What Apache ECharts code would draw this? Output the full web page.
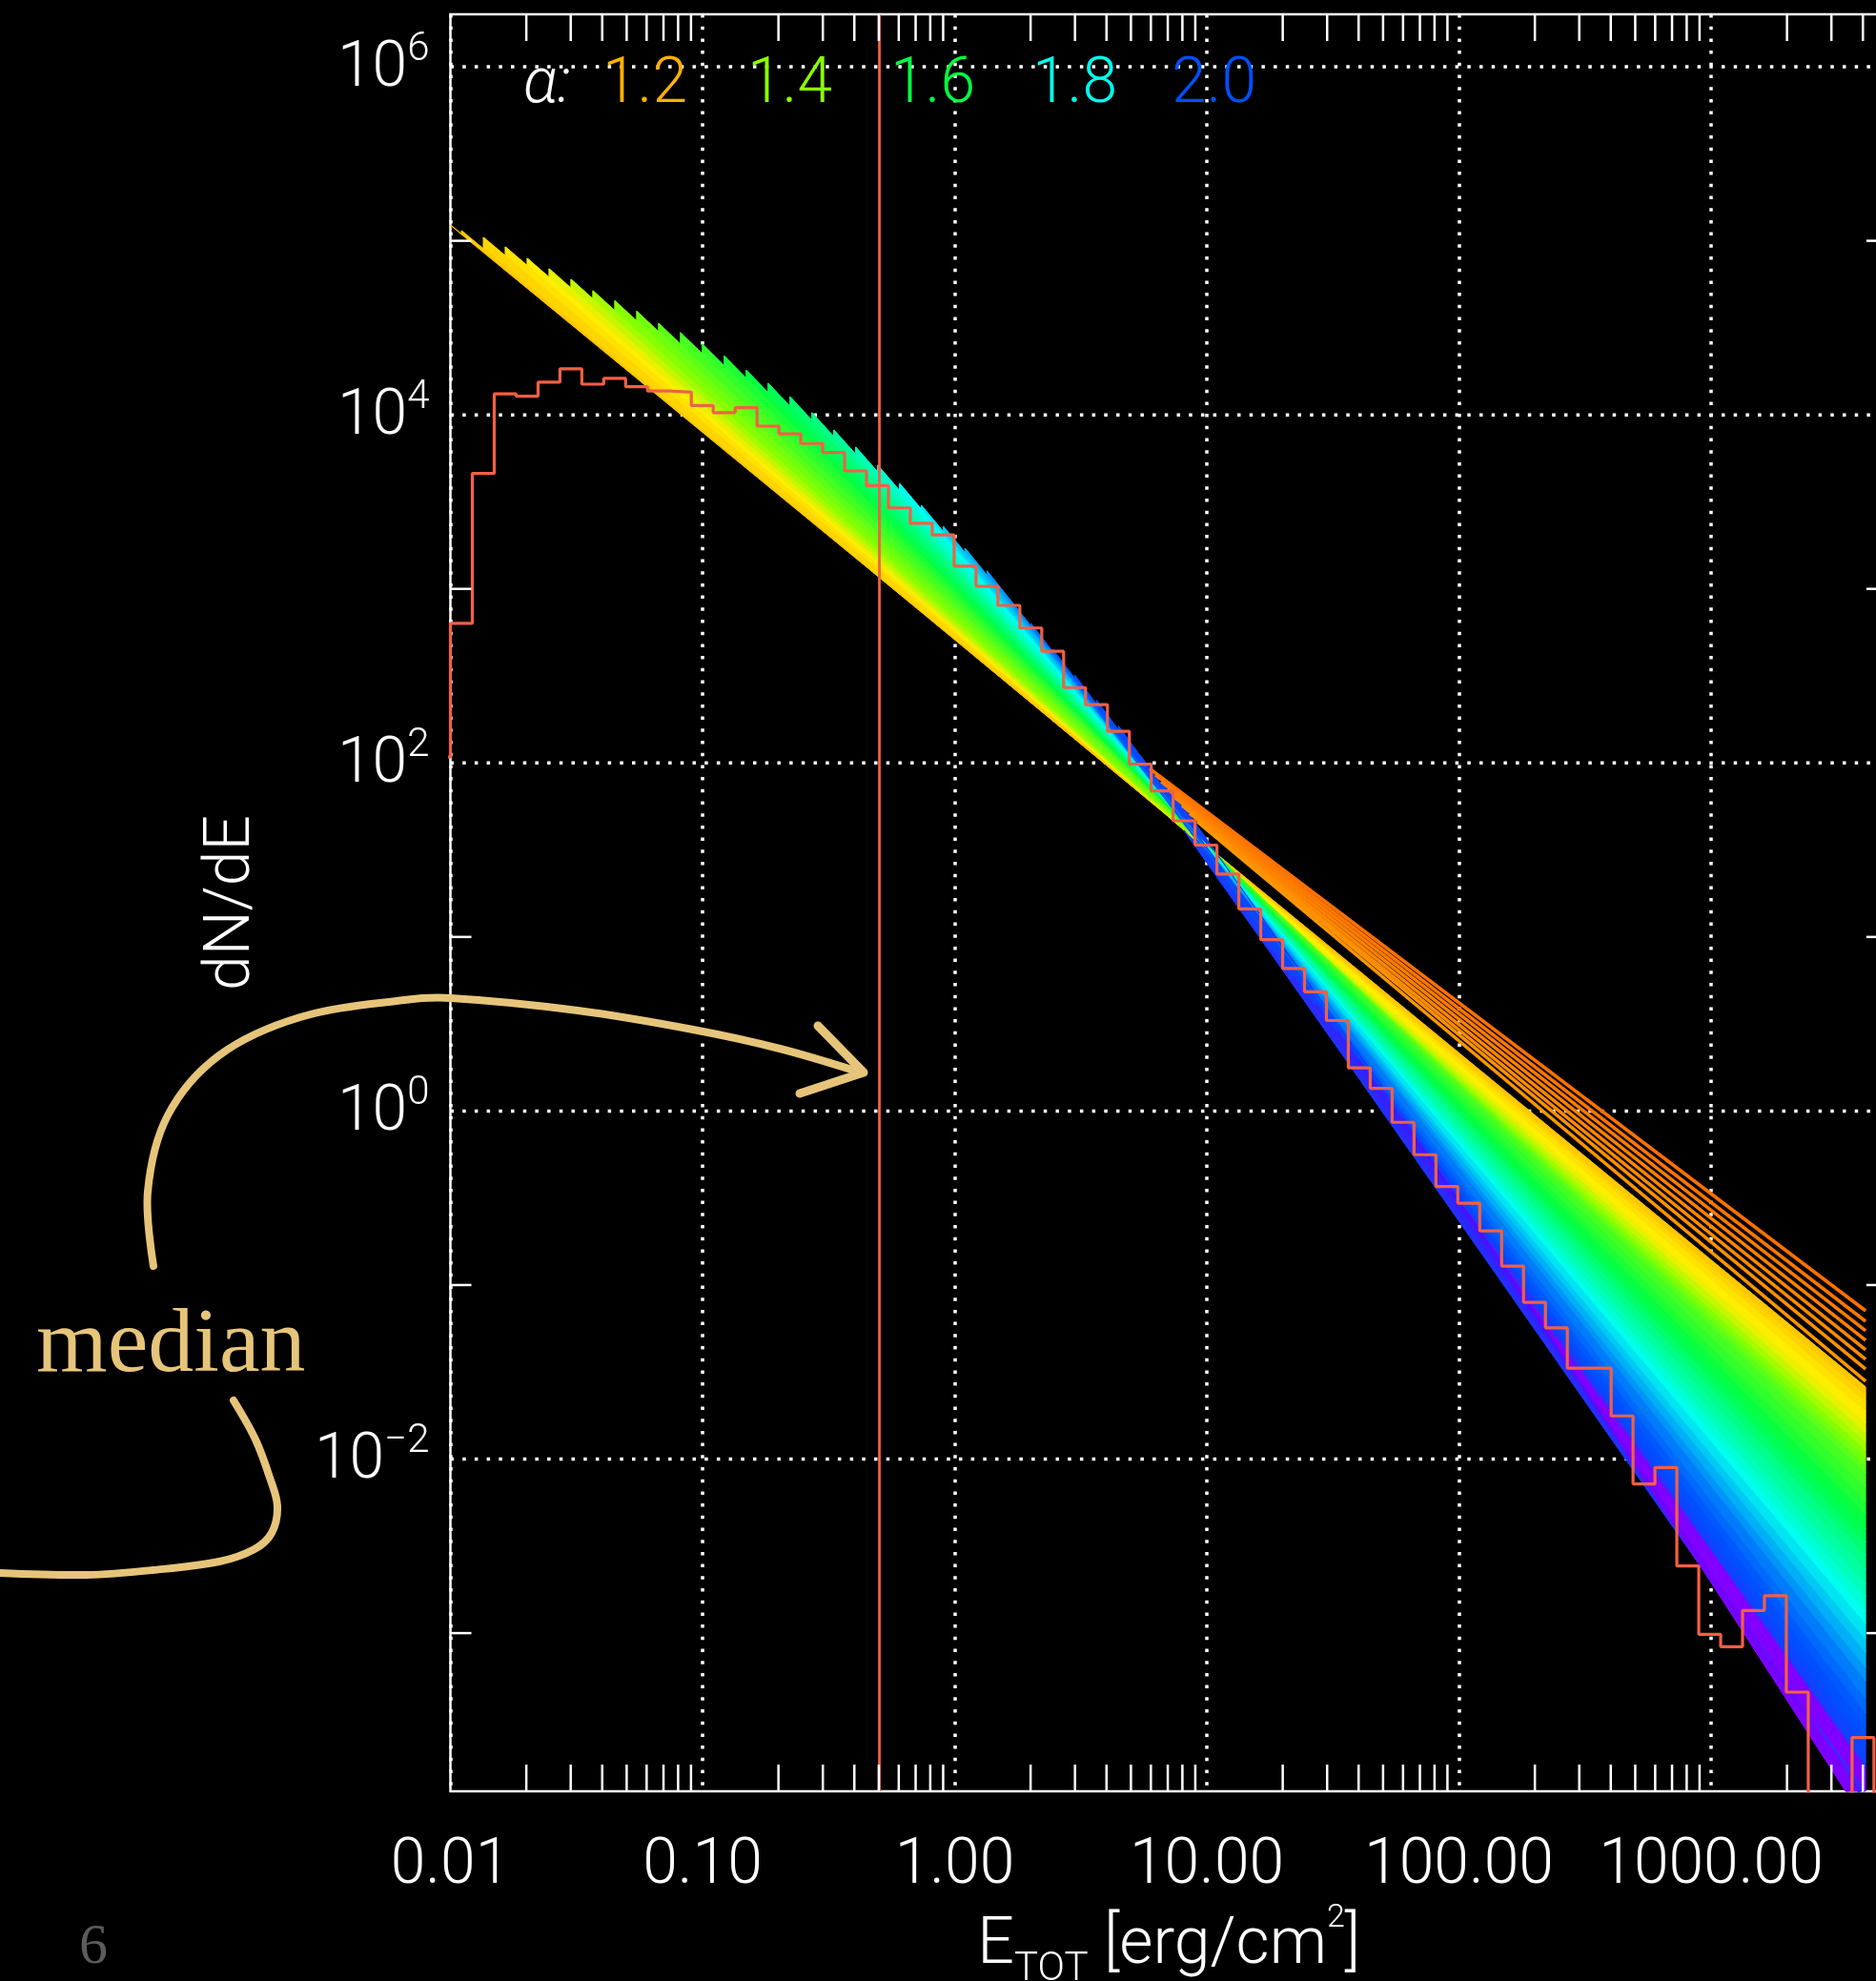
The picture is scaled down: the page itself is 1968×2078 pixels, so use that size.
<!DOCTYPE html>
<html>
<head>
<meta charset="utf-8">
<script src="https://cdn.jsdelivr.net/npm/echarts@6.0.0/dist/echarts.min.js"></script>
<style>
  html, body { margin: 0; padding: 0; background: #000; }
  #chart { width: 1968px; height: 2078px; }
</style>
</head>
<body>
<div id="chart"></div>
<script>
// ---------------- DATA ----------------
// Axis tick labels
const xTickValues = [0.01, 0.1, 1, 10, 100, 1000];
const xTickLabels = ['0.01', '0.10', '1.00', '10.00', '100.00', '1000.00'];
const yTickValues = [1e-2, 1, 1e2, 1e4, 1e6];
const yTickExponents = ['\u22122', '0', '2', '4', '6'];
const xMinorTicks = [0.02,0.03,0.04,0.05,0.06,0.07,0.08,0.09,
                     0.2,0.3,0.4,0.5,0.6,0.7,0.8,0.9,
                     2,3,4,5,6,7,8,9,
                     20,30,40,50,60,70,80,90,
                     200,300,400,500,600,700,800,900,
                     2000,3000,4000];
const yMinorTicks = [1e-3, 1e-1, 1e1, 1e3, 1e5];

// Legend (power-law index alpha)
const legendAlphaLabels = ['1.2', '1.4', '1.6', '1.8', '2.0'];

// Median of E_TOT
const medianEnergy = 0.5;

// Histogram: bin left edges and counts (dN/dE); tiny values = empty bins (off scale)
const histEdges = [0.008187, 0.01, 0.012214, 0.014918, 0.018221, 0.022255, 0.027183, 0.033201, 0.040552,
  0.04953, 0.060496, 0.073891, 0.09025, 0.110232, 0.134637, 0.164446, 0.200855, 0.245325, 0.299641,
  0.365982, 0.447012, 0.545982, 0.666863, 0.814509, 0.994843, 1.2151, 1.48413, 1.81272, 2.21406,
  2.70426, 3.303, 4.03429, 4.92749, 6.01845, 7.35095, 8.97847, 10.9663, 13.3943, 16.3598, 19.9819,
  24.406, 29.8096, 36.4095, 44.4706, 54.3165, 66.3426, 81.0308, 98.971, 120.88, 147.65, 180.34,
  220.27, 269.03, 328.6, 401.35, 490.21, 598.74, 731.3, 893.22, 1090.98, 1332.52, 1627.55, 1987.89,
  2428.02, 2965.59, 3622.17, 4424.13];
const histCounts = [108, 634, 4600, 13200, 12800, 15400, 18400, 15000, 16200, 14500, 13700, 13500,
  11300, 10300, 11000, 8610, 7780, 6840, 6080, 4760, 3920, 2920, 2380, 2040, 1350, 1035, 804, 596,
  438, 271, 216, 152, 98.4, 69.0, 46.5, 33.7, 23.0, 14.5, 9.66, 6.59, 4.84, 3.31, 1.77, 1.35, 0.861,
  0.561, 0.368, 0.295, 0.205, 0.1285, 0.0796, 0.0568, 0.0333, 0.0333, 0.0177, 0.00719, 0.00895,
  0.00243, 0.000984, 0.000836, 0.00135, 0.00164, 0.000458, 1e-6, 1e-6, 0.000251, 1e-6];

// Fan of power-law fits: start point (Emin, N), common end energy, end value, fitted alpha
const fanEndEnergy = 4100;
const fanStartE = [0.01, 0.01105, 0.0135, 0.01649, 0.02014, 0.0246, 0.03004, 0.03669, 0.04482, 0.05474,
  0.06686, 0.08166, 0.09974, 0.1218, 0.1488, 0.1817, 0.222, 0.2711, 0.3312, 0.4045, 0.494, 0.6034,
  0.737, 0.9002, 1.099, 1.343, 1.64, 2.003, 2.447, 2.989, 3.65, 4.459, 5.446, 6.651, 8.124, 9.923,
  12.12, 14.8, 18.08, 22.08, 26.97, 32.94, 40.24, 49.15, 60.03, 73.32, 89.55, 109.4, 133.6, 163.2,
  199.3, 243.4, 297.3, 363.2, 443.6, 541.8, 661.7, 808.2, 987.2, 1206];
const fanStartN = [1.233e5, 1.143e5, 1.046e5, 9.23e4, 7.93e4, 6.90e4, 6.01e4, 5.16e4, 4.52e4, 3.94e4,
  3.36e4, 2.97e4, 2.55e4, 2.18e4, 1.81e4, 1.52e4, 1.27e4, 1.03e4, 8190, 6530, 5140, 4040, 3020, 2290,
  1710, 1270, 884, 633, 450, 320, 229, 163, 110, 83.1, 41.0, 27.4, 18.3, 12.2, 8.47, 5.95, 4.18, 2.90,
  1.96, 1.343, 0.899, 0.593, 0.391, 0.258, 0.170, 0.112, 0.0738, 0.0499, 0.0338, 0.0226, 0.0149,
  0.00982, 0.00647, 0.00416, 0.00271, 0.00174];
const fanEndN = [0.02592, 0.02373, 0.02145, 0.01891, 0.01626, 0.01433, 0.01263, 0.01128, 0.01019,
  0.00927, 0.00833, 0.00698, 0.00578, 0.00484, 0.00398, 0.00334, 0.00283, 0.00235, 0.00193, 0.00162,
  0.00135, 0.00114, 0.000928, 0.000778, 0.000636, 0.000533, 0.000421, 0.000348, 0.000289, 0.000244,
  0.000223, 0.000207, 0.000181, 0.000171, 1.20e-4, 1.19e-4, 1.13e-4, 1.075e-4, 1.07e-4, 1.08e-4,
  1.10e-4, 1.11e-4, 1.09e-4, 1.09e-4, 1.07e-4, 1.04e-4, 9.77e-5, 9.25e-5, 8.83e-5, 8.50e-5, 8.24e-5,
  8.28e-5, 8.36e-5, 8.63e-5, 9.02e-5, 9.43e-5, 9.85e-5, 1.004e-4, 1.036e-4, 1.060e-4];
// alpha of each fit near its start, and alpha seen at the far (high-energy) end of the band below it
const fanAlpha = [1.23, 1.24, 1.26, 1.28, 1.30, 1.32, 1.35, 1.38, 1.41, 1.44, 1.47, 1.50, 1.53, 1.56,
  1.59, 1.62, 1.65, 1.68, 1.71, 1.74, 1.77, 1.80, 1.83, 1.86, 1.89, 1.92, 1.95, 1.97, 1.99, 2.00,
  2.01, 2.02, 2.03, 2.04, 2.04, 2.05, 2.06, 2.07, 2.08, 2.09, 2.10, 2.11, 2.12, 2.13, 2.14, 2.15,
  2.17, 2.19, 2.21, 2.23, 2.25, 2.27, 2.29, 2.30, 2.30, 2.30, 2.30, 2.30, 2.30, 2.30];
const fanAlphaFar = [1.23, 1.24, 1.26, 1.28, 1.30, 1.32, 1.35, 1.38, 1.41, 1.44, 1.47, 1.50, 1.53, 1.56,
  1.59, 1.62, 1.65, 1.68, 1.71, 1.74, 1.77, 1.80, 1.83, 1.86, 1.89, 1.92, 1.95, 1.97, 1.99, 2.00,
  2.01, 2.02, 2.03, 2.04, 2.25, 2.25, 2.25, 2.25, 2.25, 2.25, 2.25, 2.25, 2.25, 2.25, 2.25, 2.25,
  2.25, 2.25, 2.25, 2.25, 2.25, 2.27, 2.29, 2.30, 2.30, 2.30, 2.30, 2.30, 2.30, 2.30];

// Shallow fits starting near the pivot (orange bundle)
const bundleStartE = [5.933, 6.250, 6.585, 6.998, 7.437, 7.974, 8.551, 9.167];
const bundleStartN = [93.0, 85.2, 78.0, 70.5, 63.7, 56.9, 51.4, 45.9];
const bundleEndN = [0.0711, 0.0619, 0.0546, 0.0481, 0.0424, 0.0374, 0.0329, 0.0280];
const bundleAlpha = [1.08, 1.09, 1.10, 1.11, 1.12, 1.13, 1.14, 1.15];

// ---------------- STYLE HELPERS ----------------
const FONT = 'Roboto, "DejaVu Sans", sans-serif';
const HIST_COLOR = '#f26044';
const TAN = '#e6c57a';
const alphaColorStops = [[1.05, '#ff6000'], [1.10, '#ff7c00'], [1.20, '#ffb000'], [1.30, '#ffee00'],
  [1.40, '#8cff00'], [1.60, '#00ff44'], [1.80, '#00ffee'], [2.00, '#0050ff'], [2.15, '#4a10ff'],
  [2.25, '#8000ff'], [2.40, '#8800ff']];
function hexToRgb(h) { return [parseInt(h.substr(1, 2), 16), parseInt(h.substr(3, 2), 16), parseInt(h.substr(5, 2), 16)]; }
function alphaColor(a) {
  const s = alphaColorStops;
  if (a <= s[0][0]) return s[0][1];
  if (a >= s[s.length - 1][0]) return s[s.length - 1][1];
  for (let i = 0; i < s.length - 1; i++) {
    if (a >= s[i][0] && a <= s[i + 1][0]) {
      const t = (a - s[i][0]) / (s[i + 1][0] - s[i][0]);
      const c0 = hexToRgb(s[i][1]), c1 = hexToRgb(s[i + 1][1]);
      const c = c0.map((v, k) => Math.round(v + t * (c1[k] - v)));
      return 'rgb(' + c.join(',') + ')';
    }
  }
  return '#fff';
}
function sameLog(a, b) { return Math.abs(Math.log10(a) - Math.log10(b)) < 1e-6; }
const LABEL_SIZE = 66;

// ---------------- SERIES ----------------
const series = [];

// dotted horizontal grid lines + labels at labelled decades
series.push({
  type: 'custom', name: 'ygrid', silent: true, z: 1,
  encode: { x: 0, y: 1 },
  data: yTickValues.map((v, i) => [1, v, i]),
  renderItem: function (params, api) {
    const y = api.coord([1, api.value(1)])[1];
    const cs = params.coordSys;
    const exp = yTickExponents[api.value(2)];
    return { type: 'group', children: [
      { type: 'line', shape: { x1: cs.x, y1: y, x2: cs.x + cs.width, y2: y },
        style: { stroke: '#fff', lineWidth: 3.5, lineDash: [3.5, 9.2] } },
      { type: 'text', z2: 10, style: {
        text: '{b|10}{s|' + exp + '}', x: cs.x - 22, y: y + 3, align: 'right', verticalAlign: 'middle',
        rich: {
          b: { fontSize: LABEL_SIZE, lineHeight: 84, fontWeight: 300, fontFamily: FONT, fill: '#fff', verticalAlign: 'middle' },
          s: { fontSize: 42, lineHeight: 42, fontWeight: 300, fontFamily: FONT, fill: '#fff', verticalAlign: 'top' }
        } } }
    ] };
  }
});

// filled wedges between consecutive fits
const wedgeData = [];
for (let i = 0; i < fanStartE.length - 1; i++) {
  wedgeData.push([fanStartE[i], fanStartN[i], fanEndEnergy, fanEndN[i],
    fanStartE[i + 1], fanStartN[i + 1], fanEndEnergy, fanEndN[i + 1], fanAlpha[i + 1], fanAlphaFar[i + 1]]);
}
series.push({
  type: 'custom', name: 'fan', silent: true, z: 2, clip: true,
  encode: { x: [0, 2, 4, 6], y: [1, 3, 5, 7] },
  data: wedgeData,
  renderItem: function (params, api) {
    const a0 = api.coord([api.value(0), api.value(1)]);
    const a1 = api.coord([api.value(2), api.value(3)]);
    const b0 = api.coord([api.value(4), api.value(5)]);
    const b1 = api.coord([api.value(6), api.value(7)]);
    const t = (b0[0] - a0[0]) / (a1[0] - a0[0]);
    const foot = [b0[0], a0[1] + t * (a1[1] - a0[1])];
    const colL = alphaColor(api.value(8));
    const colR = alphaColor(api.value(9));
    let paint = colL;
    if (colL !== colR) {
      paint = new echarts.graphic.LinearGradient(b0[0], 0, b1[0], 0, [
        { offset: 0, color: colL }, { offset: 0.4, color: colL },
        { offset: 0.78, color: colR }, { offset: 1, color: colR }], true);
    }
    const cs = params.coordSys;
    return {
      type: 'group',
      clipPath: { type: 'rect', shape: { x: cs.x, y: cs.y, width: cs.width, height: cs.height } },
      children: [{ type: 'polygon', shape: { points: [foot, a1, b1, b0] },
        style: { fill: paint, stroke: paint, lineWidth: 1 } }]
    };
  }
});

// individual fit lines
fanStartE.forEach((e, i) => {
  series.push({
    type: 'line', silent: true, z: 3, symbol: 'none', clip: true,
    data: [[e, fanStartN[i]], [fanEndEnergy, fanEndN[i]]],
    lineStyle: { color: alphaColor(fanAlpha[i]), width: 1.2 },
    itemStyle: { color: alphaColor(fanAlpha[i]) }
  });
});
bundleStartE.forEach((e, i) => {
  series.push({
    type: 'line', silent: true, z: 4, symbol: 'none', clip: true,
    data: [[e, bundleStartN[i]], [fanEndEnergy, bundleEndN[i]]],
    lineStyle: { color: alphaColor(bundleAlpha[i]), width: 3.5 },
    itemStyle: { color: alphaColor(bundleAlpha[i]) }
  });
});

// histogram
series.push({
  type: 'line', name: 'histogram', silent: true, z: 6, symbol: 'none', step: 'end', clip: true,
  data: histEdges.map((e, i) => [e, histCounts[i]]),
  lineStyle: { color: HIST_COLOR, width: 3.2 },
  itemStyle: { color: HIST_COLOR },
  markLine: {
    silent: true, symbol: ['none', 'none'], label: { show: false },
    lineStyle: { color: HIST_COLOR, width: 2.8, type: 'solid' },
    data: [{ xAxis: medianEnergy }]
  }
});

// minor ticks (x: top & bottom, y: left & right)
series.push({
  type: 'custom', name: 'xminor', silent: true, z: 7,
  encode: { x: 0, y: 1 },
  data: xMinorTicks.map(v => [v, 1]),
  renderItem: function (params, api) {
    const x = api.coord([api.value(0), 1])[0];
    const cs = params.coordSys;
    const st = { stroke: '#fff', lineWidth: 2.5 };
    return { type: 'group', children: [
      { type: 'line', shape: { x1: x, y1: cs.y + cs.height, x2: x, y2: cs.y + cs.height - 28 }, style: st },
      { type: 'line', shape: { x1: x, y1: cs.y, x2: x, y2: cs.y + 28 }, style: st }
    ] };
  }
});
series.push({
  type: 'custom', name: 'yminor', silent: true, z: 7,
  encode: { x: 0, y: 1 },
  data: yMinorTicks.map(v => [1, v]),
  renderItem: function (params, api) {
    const y = api.coord([1, api.value(1)])[1];
    const cs = params.coordSys;
    const st = { stroke: '#fff', lineWidth: 2.5 };
    return { type: 'group', children: [
      { type: 'line', shape: { x1: cs.x, y1: y, x2: cs.x + 22, y2: y }, style: st },
      { type: 'line', shape: { x1: cs.x + cs.width, y1: y, x2: cs.x + cs.width - 22, y2: y }, style: st }
    ] };
  }
});

// ---------------- GRAPHIC (legend + annotations) ----------------
const legendX = [632, 784, 934, 1083, 1229];
const graphic = [
  { type: 'text', z: 100, silent: true, style: { text: '\u03b1:', x: 549, y: 90, fill: '#fff',
    font: 'italic 300 ' + LABEL_SIZE + 'px ' + FONT, align: 'left', verticalAlign: 'middle' } }
];
legendAlphaLabels.forEach((lab, i) => {
  graphic.push({ type: 'text', z: 100, silent: true, style: { text: lab, x: legendX[i], y: 90,
    fill: alphaColor(parseFloat(lab)), font: '300 ' + LABEL_SIZE + 'px ' + FONT, align: 'left', verticalAlign: 'middle' } });
});
graphic.push(
  { type: 'polyline', z: 100, silent: true,
    shape: { points: [[161, 1328], [155, 1250], [176, 1170], [230, 1107], [315, 1067], [424, 1049], [473, 1047],
      [606, 1060], [727, 1080], [818, 1100], [903, 1125]], smooth: 0.35 },
    style: { stroke: TAN, lineWidth: 8, fill: null, lineCap: 'round' } },
  { type: 'polyline', z: 100, silent: true,
    shape: { points: [[858, 1076], [906, 1125], [839, 1147]] },
    style: { stroke: TAN, lineWidth: 9, fill: null, lineJoin: 'round', lineCap: 'round' } },
  { type: 'polyline', z: 100, silent: true,
    shape: { points: [[245, 1469], [268, 1510], [283, 1550], [291, 1580], [285, 1608], [267, 1625],
      [230, 1638], [160, 1647], [91, 1652], [0, 1650]], smooth: 0.35 },
    style: { stroke: TAN, lineWidth: 8, fill: null, lineCap: 'round' } },
  { type: 'text', z: 100, silent: true, style: { text: 'median', x: 38, y: 1413, fill: TAN,
    font: '96px "Liberation Serif", "DejaVu Serif", serif', align: 'left', verticalAlign: 'middle' } },
  { type: 'text', z: 100, silent: true, style: { text: '6', x: 83, y: 2043, fill: '#5c5c5c',
    font: '60px "Liberation Serif", "DejaVu Serif", serif', align: 'left', verticalAlign: 'middle' } }
);

// ---------------- OPTION ----------------
const option = {
  backgroundColor: '#000',
  animation: false,
  textStyle: { fontFamily: FONT },
  grid: { left: 472.5, top: 15, width: 1507.4, height: 1864, show: true, containLabel: false,
    outerBoundsMode: 'none',
    borderColor: '#fff', borderWidth: 2.5, backgroundColor: 'transparent' },
  xAxis: {
    type: 'log', logBase: 10, min: 0.01, max: 5000, splitNumber: 5,
    axisLine: { show: false }, axisTick: { show: false },
    splitLine: { show: true, lineStyle: { color: '#fff', width: 3.5, type: [3.5, 9.2] } },
    axisLabel: {
      color: '#fff', fontFamily: FONT, fontSize: LABEL_SIZE, fontWeight: 300, margin: 46,
      showMinLabel: true, showMaxLabel: false,
      formatter: function (v) {
        const i = xTickValues.findIndex(t => sameLog(t, v));
        return i < 0 ? '' : xTickLabels[i];
      }
    },
    name: '{m|E}{sub|TOT}{m| [erg/cm}{sup|2}{m|]}',
    nameLocation: 'middle', nameGap: 100,
    nameTextStyle: {
      color: '#fff',
      rich: {
        m: { fontSize: 68, lineHeight: 92, fontWeight: 300, fontFamily: FONT, color: '#fff', verticalAlign: 'middle' },
        sub: { fontSize: 42, lineHeight: 42, fontWeight: 300, fontFamily: FONT, color: '#fff', verticalAlign: 'bottom' },
        sup: { fontSize: 34, lineHeight: 42, fontWeight: 300, fontFamily: FONT, color: '#fff', verticalAlign: 'top' }
      }
    }
  },
  yAxis: {
    type: 'log', logBase: 10, min: 1.2336e-4, max: 2.002e6,
    axisLine: { show: false }, axisTick: { show: false }, splitLine: { show: false },
    axisLabel: { show: false },
    name: 'dN/dE', nameLocation: 'middle', nameRotate: 90, nameGap: 195,
    nameTextStyle: { color: '#fff', fontSize: 66, fontWeight: 300, fontFamily: FONT }
  },
  series: series,
  graphic: graphic
};

const chart = echarts.init(document.getElementById('chart'), null, { renderer: 'canvas' });
chart.setOption(option);
</script>
</body>
</html>
